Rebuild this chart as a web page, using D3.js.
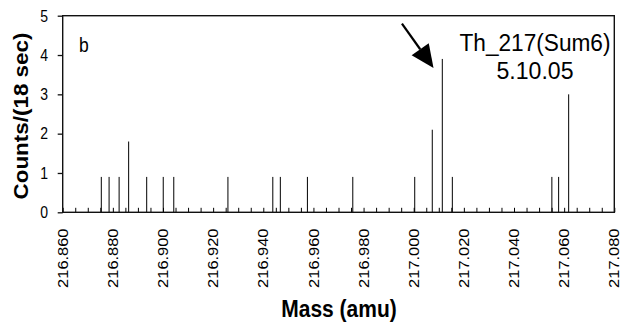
<!DOCTYPE html>
<html><head><meta charset="utf-8">
<script src="https://cdn.jsdelivr.net/npm/d3@7"></script>
<style>html,body{margin:0;padding:0;background:#fff}svg{display:block}text{font-family:Arial,"Liberation Sans",sans-serif;fill:#000}</style>
</head><body><svg id="c" width="621" height="324"></svg>
<script>
const masses = [216.8754,216.8785,216.8825,216.8863,216.8935,216.9001,216.9043,216.9259,216.9438,216.9468,216.9576,216.9757,217.0004,217.0074,217.0114,217.0154,217.0551,217.0578,217.0618];
const counts = [0.9,0.9,0.9,1.8,0.9,0.9,0.9,0.9,0.9,0.9,0.9,0.9,0.9,2.1,3.9,0.9,0.9,0.9,3.0];
const xTicks = [216.860,216.880,216.900,216.920,216.940,216.960,216.980,217.000,217.020,217.040,217.060,217.080];
const yTicks = [0,1,2,3,4,5];
const label = ["Th_217(Sum6)","5.10.05"];
const panel = "b";

const SY = 1.15;
const svg = d3.select("#c");
const L=62.7,R=614.3,T=15.7,B=212.3;
const x = d3.scaleLinear().domain([216.860,217.080]).range([L,R]);
const y = d3.scaleLinear().domain([0,5]).range([B,T]);

// minor inner ticks every 0.005
const minor = d3.range(0,45).map(i=>216.860+i*0.005);
svg.append("g").attr("transform",`translate(0,${B})`)
  .call(d3.axisTop(x).tickValues(minor).tickSize(4.5).tickFormat(""))
  .call(g=>{g.select(".domain").remove();g.selectAll("line").attr("stroke","#000").attr("stroke-width",1);});

// bars
svg.append("g").selectAll("line").data(masses).join("line")
  .attr("x1",d=>x(d)).attr("x2",d=>x(d))
  .attr("y1",y(0)).attr("y2",(d,i)=>y(counts[i]))
  .attr("stroke","#000").attr("stroke-width",1);

// frame
svg.append("rect").attr("x",L).attr("y",T).attr("width",R-L).attr("height",B-T)
  .attr("fill","none").attr("stroke","#111").attr("stroke-width",1.4);

// y axis ticks + labels
const ya = svg.append("g").attr("transform",`translate(${L},0)`)
  .call(d3.axisLeft(y).tickValues(yTicks).tickSize(5).tickPadding(0).tickFormat(d3.format("d")));
ya.select(".domain").remove();
ya.selectAll("line").attr("stroke","#111").attr("stroke-width",1.3);
ya.selectAll("text").remove();
svg.append("g").selectAll("text").data(yTicks).join("text")
  .attr("text-anchor","end").attr("font-size",14)
  .attr("transform",d=>`translate(48,${y(d)}) scale(1,${SY})`)
  .attr("dy","0.36em").text(d=>d);

// x tick labels
svg.append("g").selectAll("text").data(xTicks).join("text")
  .attr("text-anchor","end").attr("font-size",14.3)
  .attr("transform",d=>`translate(${x(d)},228.5) scale(1,${SY}) rotate(-90)`)
  .attr("dy","0.36em").text(d=>d3.format(".3f")(d));

// axis titles
svg.append("text").attr("text-anchor","middle").attr("font-size",19.5).attr("font-weight","bold")
  .attr("transform",`translate(28,116) scale(1,${SY}) rotate(-90)`).text("Counts/(18 sec)");
svg.append("text").attr("text-anchor","middle").attr("font-size",21).attr("font-weight","bold")
  .attr("transform",`translate(339,316.5) scale(1,${SY})`).text("Mass (amu)");

// panel letter
svg.append("text").attr("font-size",17.5)
  .attr("transform",`translate(79,52) scale(1,${SY})`).text(panel);

// label
svg.append("text").attr("text-anchor","middle").attr("font-size",20.5)
  .attr("textLength",151).attr("lengthAdjust","spacingAndGlyphs")
  .attr("transform",`translate(535,50.7) scale(1,${SY})`).text(label[0]);
svg.append("text").attr("text-anchor","middle").attr("font-size",20.5)
  .attr("textLength",77).attr("lengthAdjust","spacingAndGlyphs")
  .attr("transform",`translate(535,79) scale(1,${SY})`).text(label[1]);

// arrow (data coords)
const a0=[216.9953,4.8], tip=[217.0079,3.67];
const p0=[x(a0[0]),y(a0[1])], p1=[x(tip[0]),y(tip[1])];
const ang=Math.atan2(p1[1]-p0[1],p1[0]-p0[0]);
const hl=23, hw=10.5;
const bx=p1[0]-hl*Math.cos(ang), by=p1[1]-hl*Math.sin(ang);
svg.append("line").attr("x1",p0[0]).attr("y1",p0[1]).attr("x2",bx).attr("y2",by)
  .attr("stroke","#000").attr("stroke-width",2.2);
svg.append("path").attr("fill","#000")
  .attr("d",`M${p1[0]},${p1[1]}L${bx+hw*Math.sin(ang)},${by-hw*Math.cos(ang)}L${bx-hw*Math.sin(ang)},${by+hw*Math.cos(ang)}Z`);
</script></body></html>
